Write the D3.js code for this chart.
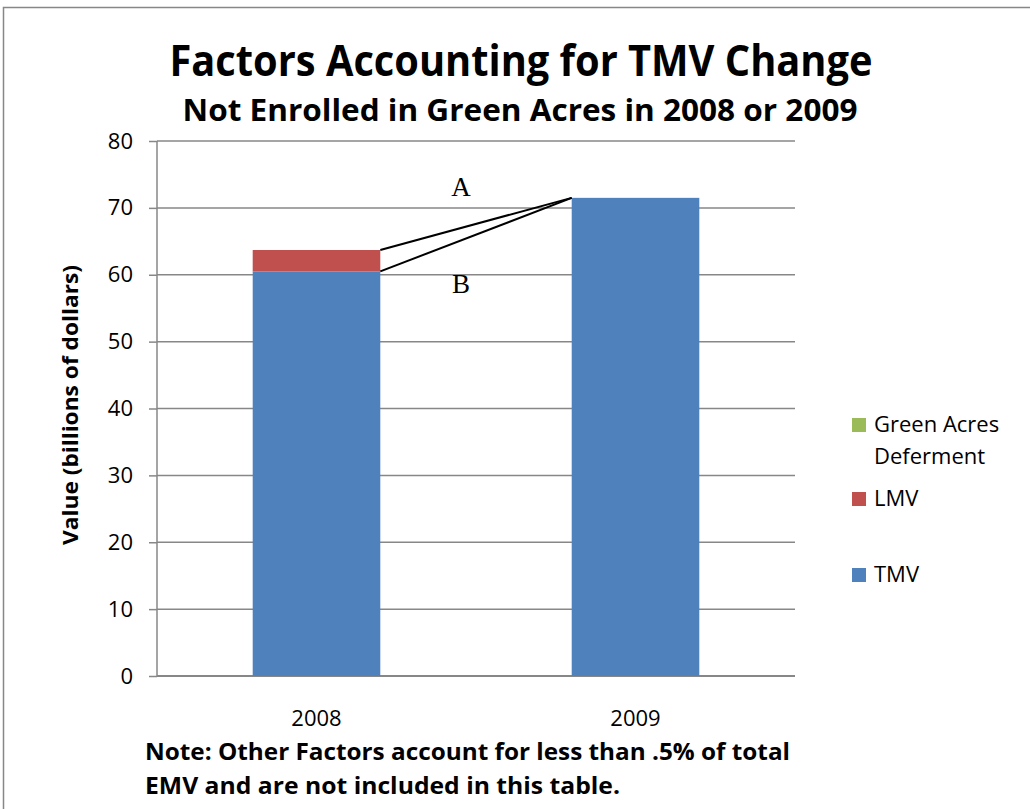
<!DOCTYPE html>
<html><head><meta charset="utf-8">
<script src="https://cdn.jsdelivr.net/npm/d3@7"></script>
<style>body{margin:0;background:#fff;} svg{display:block;}</style>
</head><body>
<svg id="chart" width="1030" height="809"></svg>
<script>
const categories = ["2008", "2009"];
const tmv = [60.5, 71.5];
const lmv = [3.2, 0];
const greenAcres = [0, 0];
const yTicks = [0, 10, 20, 30, 40, 50, 60, 70, 80];
const seriesNames = ["Green Acres Deferment", "LMV", "TMV"];
const seriesColors = {"TMV": "#4F81BD", "LMV": "#C0504D", "Green Acres Deferment": "#9BBB59"};
const annotations = ["A", "B"];

const font = "'Open Sans', 'Noto Sans', sans-serif";
const svg = d3.select("#chart");

// outer frame
svg.append("rect").attr("x", 3.5).attr("y", 7.5).attr("width", 1040).attr("height", 820)
  .attr("fill", "none").attr("stroke", "#878787").attr("stroke-width", 1.5);

const x = d3.scaleBand().domain(categories).range([157, 795]).paddingInner(0.6).paddingOuter(0.3);
const y = d3.scaleLinear().domain([0, 80]).range([676, 141]);

// gridlines
svg.append("g").selectAll("line").data(yTicks.filter(d => d > 0)).join("line")
  .attr("x1", 157).attr("x2", 795).attr("y1", d => y(d)).attr("y2", d => y(d))
  .attr("stroke", "#878787").attr("stroke-width", 1.5);

// y axis
const yAxis = svg.append("g").attr("transform", "translate(157,0)")
  .call(d3.axisLeft(y).tickValues(yTicks).tickSize(8).tickPadding(16).tickFormat(d3.format("d")));
yAxis.select(".domain").attr("stroke", "#878787").attr("stroke-width", 1.5).attr("d", `M0,${y(80)}V${y(0)}`);
yAxis.selectAll(".tick line").attr("stroke", "#878787").attr("stroke-width", 1.5);
yAxis.selectAll("text").attr("font-family", font).attr("font-size", 22).attr("fill", "#000");

// x axis line
svg.append("line").attr("x1", 157).attr("x2", 795).attr("y1", y(0)).attr("y2", y(0))
  .attr("stroke", "#878787").attr("stroke-width", 2);

// x labels
svg.append("g").selectAll("text").data(categories).join("text")
  .attr("x", d => x(d) + x.bandwidth() / 2).attr("y", 726).attr("text-anchor", "middle")
  .attr("font-family", font).attr("font-size", 22).text(d => d);

// stacked bars
const rows = categories.map((c, i) => ({cat: c, "TMV": tmv[i], "LMV": lmv[i], "Green Acres Deferment": greenAcres[i]}));
const stack = d3.stack().keys(["TMV", "LMV", "Green Acres Deferment"])(rows);
svg.append("g").selectAll("g").data(stack).join("g").attr("fill", s => seriesColors[s.key])
  .selectAll("rect").data(s => s).join("rect")
  .attr("x", d => x(d.data.cat)).attr("width", x.bandwidth())
  .attr("y", d => y(d[1])).attr("height", d => y(d[0]) - y(d[1]));

// annotation lines
const x0 = x(categories[0]) + x.bandwidth();
const x1 = x(categories[1]);
const topEnd = y(tmv[1] + lmv[1] + greenAcres[1]);
const lineStarts = [tmv[0] + lmv[0] + greenAcres[0], tmv[0]];
svg.append("g").selectAll("line").data(lineStarts).join("line")
  .attr("x1", x0).attr("y1", d => y(d)).attr("x2", x1).attr("y2", topEnd)
  .attr("stroke", "#000").attr("stroke-width", 2);
svg.append("text").attr("x", 461).attr("y", 196).attr("text-anchor", "middle")
  .attr("font-family", "'Liberation Serif', 'Times New Roman', serif").attr("font-size", 27).text(annotations[0]);
svg.append("text").attr("x", 461).attr("y", 293).attr("text-anchor", "middle")
  .attr("font-family", "'Liberation Serif', 'Times New Roman', serif").attr("font-size", 27).text(annotations[1]);

// titles
svg.append("text").attr("x", 521).attr("y", 76).attr("text-anchor", "middle")
  .attr("font-family", font).attr("font-weight", "bold").attr("font-size", 43)
  .attr("textLength", 703).attr("lengthAdjust", "spacingAndGlyphs")
  .text("Factors Accounting for TMV Change");
svg.append("text").attr("x", 520).attr("y", 121).attr("text-anchor", "middle")
  .attr("font-family", font).attr("font-weight", "bold").attr("font-size", 30)
  .attr("textLength", 675).attr("lengthAdjust", "spacingAndGlyphs")
  .text("Not Enrolled in Green Acres in 2008 or 2009");

// y title
svg.append("text").attr("transform", "translate(78,405) rotate(-90)").attr("text-anchor", "middle")
  .attr("font-family", font).attr("font-weight", "bold").attr("font-size", 22)
  .attr("textLength", 280).attr("lengthAdjust", "spacingAndGlyphs")
  .text("Value (billions of dollars)");

// legend
const legendItems = [
  {name: seriesNames[0], lines: ["Green Acres", "Deferment"], y: 432},
  {name: seriesNames[1], lines: ["LMV"], y: 506},
  {name: seriesNames[2], lines: ["TMV"], y: 582}
];
const lg = svg.append("g").selectAll("g").data(legendItems).join("g");
lg.append("rect").attr("x", 852).attr("y", d => d.y - 14).attr("width", 14).attr("height", 14)
  .attr("fill", d => seriesColors[d.name]);
lg.append("text").attr("x", 874).attr("y", d => d.y).attr("font-family", font).attr("font-size", 22)
  .selectAll("tspan").data(d => d.lines).join("tspan")
  .attr("x", 874).attr("dy", (d, i) => i === 0 ? 0 : 32).text(d => d);

// note
svg.append("text").attr("x", 145).attr("y", 760).attr("font-family", font).attr("font-weight", "bold")
  .attr("font-size", 23.5).attr("textLength", 645).attr("lengthAdjust", "spacingAndGlyphs")
  .text("Note: Other Factors account for less than .5% of total");
svg.append("text").attr("x", 145).attr("y", 794).attr("font-family", font).attr("font-weight", "bold")
  .attr("font-size", 23.5).attr("textLength", 475).attr("lengthAdjust", "spacingAndGlyphs")
  .text("EMV and are not included in this table.");
</script>
</body></html>
